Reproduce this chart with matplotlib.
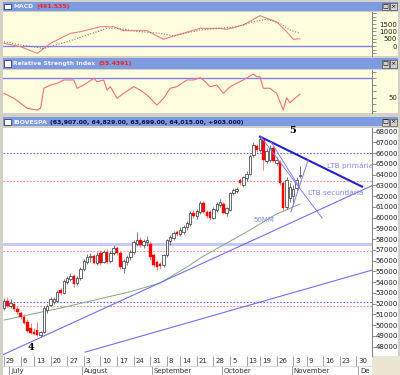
import numpy as np
import matplotlib
matplotlib.use('Agg')
import matplotlib.pyplot as plt
from matplotlib.patches import Rectangle

W, H = 400, 375

# IBOVESPA daily candles, trading days 29 Jun 2009 .. 5 Nov 2009
opens = [51600, 52300, 51800, 52000, 51500, 51100, 50800, 50300, 49700, 49400,
         49600, 49100, 49400, 51400, 51900, 52200, 52300, 53300, 53000, 54000,
         54300, 54600, 53900, 54400, 55200, 55900, 56300, 56400, 55800, 56700,
         55900, 56800, 56000, 56700, 57200, 56700, 55300, 55900, 56300, 56800,
         57600, 57900, 57500, 57700, 57600, 56500, 55900, 55700, 55600, 56500,
         57800, 58100, 58700, 58500, 58700, 59100, 59400, 60400, 60200, 60500,
         61400, 60500, 60500, 60000, 60700, 61200, 61300, 60450, 60700, 62300,
         62500, 63500, 63000, 63700, 64100, 65800, 66700, 66300, 67200, 65300,
         65400, 66500, 65100, 65200, 63200, 61000, 61800, 62000, 62800, 63907]
highs = [52500, 52600, 52400, 52100, 51700, 51300, 51000, 50600, 50200, 49700,
         50300, 49500, 51800, 52000, 52600, 52600, 53300, 53500, 54300, 54600,
         54900, 54800, 54600, 55400, 56200, 56600, 56700, 56600, 56800, 56900,
         57000, 57100, 56900, 57500, 57400, 56900, 56200, 56500, 57000, 57900,
         58700, 58200, 58000, 58300, 57800, 56700, 56100, 55900, 56600, 58000,
         58400, 58800, 58900, 59100, 59300, 59700, 60600, 60700, 60800, 61600,
         61600, 60700, 60700, 61000, 61500, 61700, 61500, 61000, 62400, 62800,
         62900, 63700, 63900, 64300, 65900, 67000, 66900, 67550, 67300, 66500,
         66800, 66700, 65600, 65400, 63400, 63800, 63200, 63000, 63800, 64829]
lows = [51400, 51700, 51600, 51300, 51000, 50600, 50100, 49400, 49200, 49100,
        49000, 48900, 49300, 51100, 51800, 52000, 52200, 52800, 52900, 53800,
        54100, 53600, 53700, 54200, 55000, 55700, 55900, 55700, 55600, 55600,
        55800, 55700, 55800, 56500, 56500, 55200, 54900, 55600, 56100, 56600,
        57400, 57300, 57200, 57400, 56100, 55400, 55100, 55200, 55400, 56300,
        57500, 57900, 58300, 58300, 58500, 58900, 59200, 60000, 59900, 60300,
        60400, 60000, 59800, 59900, 60500, 61000, 60300, 60200, 60600, 62100,
        62300, 63000, 62900, 63400, 64000, 65600, 66100, 66100, 64400, 65100,
        65200, 65200, 64900, 63000, 60600, 60800, 61500, 61200, 62600, 63699]
closes = [52300, 51800, 52100, 51500, 51200, 50800, 50200, 49500, 49300, 49200,
          49100, 49400, 51600, 51800, 52400, 52400, 53100, 53000, 54100, 54400,
          54600, 53800, 54400, 55200, 56000, 56300, 56400, 55800, 56500, 55800,
          56800, 55900, 56700, 57200, 56700, 55400, 56000, 56300, 56800, 57700,
          57900, 57500, 57800, 57900, 56300, 55600, 55400, 55500, 56500, 57900,
          58200, 58600, 58500, 58900, 59100, 59500, 60400, 60200, 60600, 61400,
          60500, 60200, 60000, 60800, 61300, 61450, 60400, 60900, 62300, 62600,
          62700, 63200, 63800, 64100, 65700, 66800, 66300, 67300, 65400, 66200,
          66500, 65300, 65350, 63200, 60900, 63500, 62900, 62700, 63500, 64015]

# 50 day moving average
ma50_x = [0, 17, 38, 47, 56, 59, 74, 82, 89]
ma50_v = [50480, 51600, 53120, 53930, 55600, 56250, 58860, 60340, 61270]

# horizontal support / resistance levels
blue_levels = [66050, 52125]
red_levels = [63440, 56930, 51780]
band_level = 57525

# trend lines (x = trading day index, y = points)
lta_x, lta_v = [-0.3, 110.7], [47260, 62980]
lta2_x, lta2_v = [24.4, 110.7], [47500, 55130]
ltb1_x, ltb1_v = [77.0, 107.7], [67540, 62890]
ltb2_x, ltb2_v = [77.3, 95.7], [67510, 59970]
ltb3_x, ltb3_v = [80.3, 89.0], [67050, 62770]
up_x, up_v = [86.3, 91.5], [60530, 65370]

# MACD panel
macd_x = [0, 5, 10, 14, 20, 23, 29, 33, 36, 43, 48, 52, 59, 65, 67, 72, 77, 82, 85, 87, 89]
macd_v = [185, -48, -500, 185, 870, 980, 1320, 1320, 1050, 1050, 460, 750, 1210, 1210,
          1140, 1440, 2075, 1660, 980, 460, 492]
signal_x = [0, 5, 12, 19, 25, 31, 34, 41, 47, 51, 59, 65, 70, 75, 79, 83, 86, 89]
signal_v = [295, 70, -160, 295, 750, 1210, 1210, 980, 870, 685, 1100, 1210, 1320, 1665,
            1830, 1555, 1100, 870]

# RSI panel
rsi_x = [0, 3, 7, 10, 11, 12, 14, 16, 18, 21, 22, 24, 27, 28, 30, 31, 32, 34, 36, 39,
         41, 43, 46, 48, 50, 52, 55, 57, 59, 60, 62, 64, 66, 68, 70, 72, 75, 76, 77, 78,
         80, 82, 84, 85, 86, 89]
rsi_v = [56.8, 49.1, 33.7, 31.1, 33.7, 64.5, 69.5, 72.2, 77.2, 77.2, 64.5, 69.5, 79.8,
         74.6, 77.2, 61.8, 66.9, 49.1, 56.8, 66.9, 61.8, 54.2, 38.6, 49.1, 64.5, 66.9,
         77.2, 77.2, 80.8, 77.2, 66.9, 69.5, 56.8, 66.9, 72.2, 77.2, 86.5, 82.3, 82.3,
         64.5, 64.5, 56.8, 31.1, 50.0, 42.3, 55.4]

# date axis
day_ticks = [0, 5, 9, 14, 19, 24, 29, 34, 39, 44, 49, 53, 58, 63, 68, 73, 77, 82, 87,
             91, 96, 101, 106]
day_labels = ['29', '6', '13', '20', '27', '3', '10', '17', '24', '31', '8', '14', '21',
              '28', '5', '13', '19', '26', '3', '9', '16', '23', '30']
month_ticks = [1.5, 23.5, 44.5, 65.5, 86.5, 106.5]
month_labels = ['July', 'August', 'September', 'October', 'November', 'De']

X0, X1 = -0.3, 110.7

plt.rcParams['font.family'] = 'DejaVu Sans'

fig = plt.figure(figsize=(W / 100, H / 100), dpi=100)
fig.patch.set_facecolor('#d4d0c8')


def fbox(x0, y0, x1, y1):
    return [x0 / W, 1 - y1 / H, (x1 - x0) / W, (y1 - y0) / H]


def px_rect(x0, y0, x1, y1, **kw):
    r = Rectangle((x0 / W, 1 - y1 / H), (x1 - x0) / W, (y1 - y0) / H,
                  transform=fig.transFigure, **kw)
    fig.add_artist(r)
    return r


def title_bar(y0, y1, name, value, value_col):
    px_rect(3, y0, 398, y1, facecolor='#7d9be0', edgecolor='none', zorder=-1)
    px_rect(4, y0 + 2, 11, y1 - 1.5, facecolor='white', edgecolor='#202060',
            linewidth=0.5, zorder=2)
    # window buttons
    for bx, sym in [(381.5, '\u25a1'), (389.5, '\u00d7')]:
        px_rect(bx, y0 + 1.5, bx + 7, y1 - 1, facecolor='#d4d0c8', edgecolor='#404040',
                linewidth=0.4, zorder=2)
        fig.text((bx + 3.5) / W, 1 - (y0 + y1) / 2 / H, sym, fontsize=4.5,
                 ha='center', va='center', color='black', zorder=3)
    t = fig.text(13 / W, 1 - (y0 + y1) / 2 / H - 0.001, name, fontsize=4.4,
                 color='#f4f4ff', ha='left', va='center', fontweight='bold')
    # value text placed right after the name
    fig.add_artist(plt.Annotation(value, xy=(1, 0.5), xycoords=t, xytext=(2.5, 0),
                                  textcoords='offset points', fontsize=4.4,
                                  color=value_col, ha='left', va='center',
                                  fontweight='bold'))


def style_right(a, face, pad):
    a.set_facecolor(face)
    for s in ['left', 'top', 'bottom']:
        a.spines[s].set_visible(False)
    a.spines['right'].set_color('#808080')
    a.spines['right'].set_linewidth(0.7)
    a.yaxis.tick_right()
    a.tick_params(axis='y', colors='#808080', labelcolor='#202020', labelsize=5,
                  length=3, width=0.6, pad=pad)
    a.set_xticks([])
    a.set_xlim(X0, X1)


# background strips for the right-hand axes
px_rect(372, 11.7, 398, 56, facecolor='#ffffe0', edgecolor='none', zorder=-1)
px_rect(372, 70, 398, 113, facecolor='#ffffe0', edgecolor='none', zorder=-1)
px_rect(372, 127.7, 398, 356, facecolor='white', edgecolor='none', zorder=-1)
px_rect(372, 356, 400, 375, facecolor='#ebe6d2', edgecolor='none', zorder=-1)

title_bar(1.7, 10.7, 'MACD', '(491.535)', '#ff2020')
title_bar(58.5, 68.7, 'Relative Strength Index', '(55.4391)', '#ff2020')
title_bar(117.5, 126.5, 'IBOVESPA',
          '(63,907.00, 64,829.00, 63,699.00, 64,015.00, +903.000)', '#10104a')

# ---------------- MACD ----------------
ax_m = fig.add_axes(fbox(3, 11.7, 372, 56))
style_right(ax_m, '#ffffe0', 15)
ax_m.set_ylim(-685, 2350)
ax_m.axhline(0, color='#8080ff', lw=1.0)
ax_m.plot(macd_x, macd_v, color='#f08080', lw=0.8)
ax_m.plot(signal_x, signal_v, color='#8a7a6a', lw=0.8, ls=(0, (1, 1.5)))
mt = list(range(-500, 2500, 250))
ax_m.set_yticks(mt)
ax_m.set_yticklabels([str(v) if v in (0, 500, 1000, 1500) else '' for v in mt])
for lbl in ax_m.get_yticklabels():
    lbl.set_horizontalalignment('right')

# ---------------- RSI ----------------
ax_r = fig.add_axes(fbox(3, 70, 372, 113))
style_right(ax_r, '#ffffe0', 15)
ax_r.set_ylim(26.5, 92.6)
ax_r.axhline(80, color='#8080ff', lw=1.0)
ax_r.plot(rsi_x, rsi_v, color='#f07070', lw=0.8)
rt = list(range(30, 100, 10))
ax_r.set_yticks(rt)
ax_r.set_yticklabels(['50' if v == 50 else '' for v in rt])
for lbl in ax_r.get_yticklabels():
    lbl.set_horizontalalignment('right')

# ---------------- price ----------------
ax = fig.add_axes(fbox(3, 127.7, 372, 356))
style_right(ax, 'white', 15.5)
ax.spines['bottom'].set_visible(True)
ax.spines['bottom'].set_color('#808080')
ax.set_ylim(47140, 68370)
pt = list(range(48000, 69000, 1000))
ax.set_yticks(pt)
ax.set_yticklabels([str(v) for v in pt])
for lbl in ax.get_yticklabels():
    lbl.set_horizontalalignment('right')

for lv in blue_levels:
    ax.axhline(lv, color='#6a6aff', lw=0.8, ls=(0, (1.5, 1.5)), zorder=1)
for lv in red_levels:
    ax.axhline(lv, color='#ff8a8a', lw=0.8, ls=(0, (1.5, 1.5)), zorder=1)
ax.axhline(band_level, color='#c8c8ff', lw=2.2, zorder=1)

ax.plot(ma50_x, ma50_v, color='#80a880', lw=0.7, zorder=2)

idx = np.arange(len(closes))
o = np.array(opens)
c = np.array(closes)
h = np.array(highs)
l = np.array(lows)
up = c >= o
body_lo = np.minimum(o, c)
body_h = np.maximum(np.abs(c - o), 50)
ax.vlines(idx[up], l[up], h[up], color='#606060', lw=0.6, zorder=3)
ax.vlines(idx[~up], l[~up], h[~up], color='#ff7070', lw=0.6, zorder=3)
ax.bar(idx[up], body_h[up], bottom=body_lo[up], width=0.75, color='white',
       edgecolor='#404040', linewidth=0.55, zorder=4)
ax.bar(idx[~up], body_h[~up], bottom=body_lo[~up], width=0.75, color='#ff0000',
       edgecolor='#ff0000', linewidth=0.3, zorder=4)

ax.plot(lta_x, lta_v, color='#7070f0', lw=0.8, zorder=5)
ax.plot(lta2_x, lta2_v, color='#7070f0', lw=0.8, zorder=5)
ax.plot(ltb1_x, ltb1_v, color='#2222cc', lw=1.5, zorder=5)
ax.plot(ltb2_x, ltb2_v, color='#8080f0', lw=0.7, zorder=5)
ax.plot(ltb3_x, ltb3_v, color='#8080f0', lw=0.7, zorder=5)
ax.plot(up_x, up_v, color='#8080f0', lw=0.7, zorder=5)

ax.text(86.9, 68070, '5', fontsize=7, fontweight='bold', family='DejaVu Serif',
        ha='center', va='center', zorder=6)
ax.text(8.1, 47960, '4', fontsize=7, fontweight='bold', family='DejaVu Serif',
        ha='center', va='center', zorder=6)
ax.text(74.9, 59790, '50MM', fontsize=5, color='#8888e8', ha='left', va='center', zorder=6)
ax.text(97.2, 64810, 'LTB primária', fontsize=5.3, color='#8888e8', ha='left',
        va='center', zorder=6)
ax.text(91.5, 62300, 'LTB secundária', fontsize=5.3, color='#8888e8', ha='left',
        va='center', zorder=6)

# ---------------- date strip ----------------
ax_d = fig.add_axes(fbox(3, 356, 372, 375))
ax_d.set_facecolor('white')
ax_d.set_xlim(X0, X1)
ax_d.set_ylim(0, 1)
ax_d.set_xticks([])
ax_d.set_yticks([])
for s in ax_d.spines.values():
    s.set_visible(False)
ax_d.vlines(day_ticks, 0.48, 1, color='#909090', lw=0.6)
ax_d.vlines(month_ticks, 0, 0.48, color='#909090', lw=0.6)
ax_d.axhline(0.48, color='#d0d0d0', lw=0.5)
for t, s in zip(day_ticks, day_labels):
    ax_d.text(t + 0.6, 0.74, s, fontsize=5, color='#303030', ha='left', va='center')
for t, s in zip(month_ticks, month_labels):
    ax_d.text(t + 0.6, 0.22, s, fontsize=5, color='#303030', ha='left', va='center')

fig.savefig('out.png', dpi=100, facecolor=fig.get_facecolor())
